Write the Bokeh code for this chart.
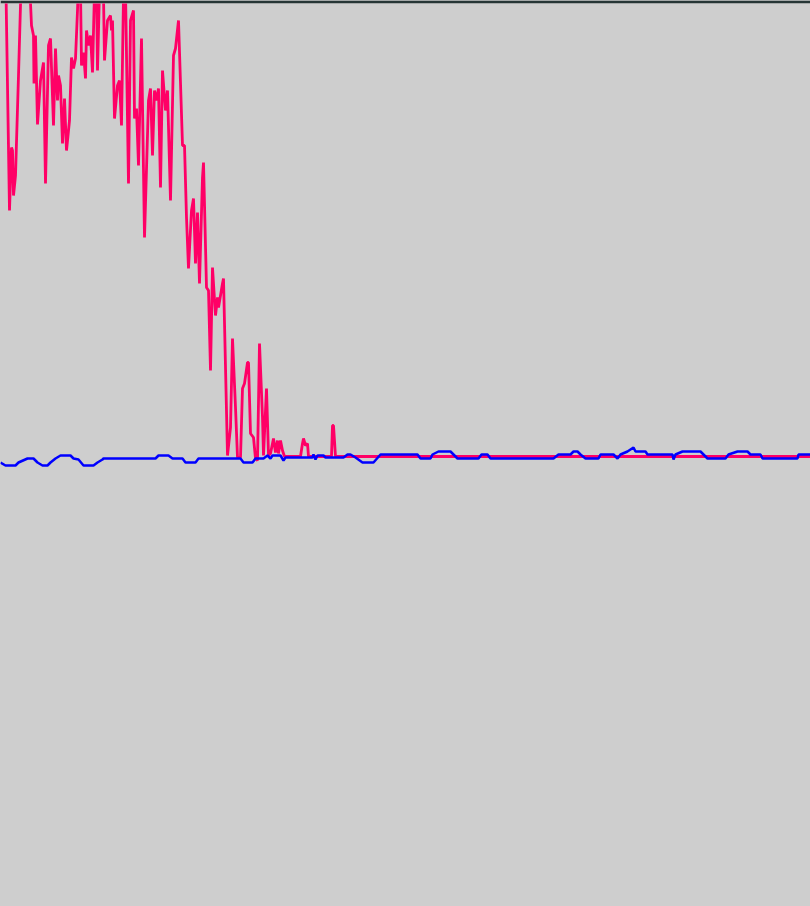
from bokeh.plotting import figure
from bokeh.models import Range1d, GlobalInlineStyleSheet
from bokeh.embed import file_html
from bokeh.resources import INLINE

# Red series: sample position and value (baseline = 0)
red_x = [5, 9, 11, 12, 13, 15, 18, 21, 25, 29, 31, 33, 33.5, 35, 37, 40, 43, 45, 48, 50,
         53, 55, 57, 58, 60, 62, 64, 66, 69, 71, 73, 75, 77, 78, 80, 81, 83, 85, 86, 88,
         90, 92, 94, 96, 97, 99, 101, 103, 104, 107, 110, 111, 112, 114, 117, 119, 121, 123, 125, 128,
         130, 133, 134, 136, 138, 141, 144, 148, 150, 152, 154, 156, 158, 160, 162, 165, 167, 170, 173, 175,
         178, 182, 184, 186, 188, 191, 193, 195, 197, 199, 202, 203, 206, 208, 210, 212, 215, 217, 218, 222,
         223, 227, 230, 232, 235, 237, 240, 242, 244, 247, 248, 250, 253, 255, 257, 259, 262, 263, 266, 268,
         270, 273, 275, 277, 278, 280, 282, 284, 300, 302, 303, 305, 307, 308, 331, 332, 333, 335, 810]
red_y = [496, 246, 309, 306, 261, 281, 381, 486, 536, 476, 431, 421, 373, 421, 332, 376, 394, 273, 411, 418,
         331, 408, 356, 381, 371, 313, 358, 306, 336, 399, 388, 398, 446, 476, 466, 391, 404, 378, 426, 411,
         421, 384, 466, 471, 386, 466, 486, 461, 396, 436, 441, 426, 436, 338, 371, 376, 331, 461, 466, 273,
         436, 446, 338, 348, 291, 418, 219, 356, 368, 301, 366, 356, 368, 269, 386, 346, 366, 256, 401, 408,
         436, 311, 311, 239, 188, 246, 258, 193, 244, 173, 279, 294, 169, 166, 86, 189, 141, 159, 149, 173,
         178, 1, 29, 118, 49, -1, -1, 68, 73, 94, 94, 23, 19, -2, -4, 113, 39, 1, 68, 1,
         3, 18, 4, 16, 3, 16, 6, 0, 0, 13, 18, 11, 13, 0, 0, 31, 31, 0, 0]

# Blue series: sample position and value (baseline = 0)
blue_x = [0, 5, 15, 18, 27, 33, 37, 42, 47, 50, 55, 60, 70, 73, 78, 83, 93, 97, 102, 103,
          155, 158, 168, 172, 182, 185, 195, 198, 240, 243, 252, 255, 263, 267, 270, 272, 280, 283, 285, 312,
          313, 315, 317, 323, 325, 343, 347, 350, 355, 362, 373, 380, 417, 420, 430, 432, 438, 450, 457, 478,
          481, 487, 490, 553, 558, 570, 573, 577, 580, 585, 598, 600, 613, 617, 620, 627, 633, 635, 645, 647,
          672, 673, 675, 682, 700, 707, 725, 728, 737, 747, 750, 760, 762, 797, 798, 810]
blue_y = [-6, -9, -9, -6, -2, -2, -6, -9, -9, -6, -2, 1, 1, -2, -3, -9, -9, -6, -3, -2,
          -2, 1, 1, -2, -2, -6, -6, -2, -2, -6, -6, -2, -2, 1, -2, 1, 1, -4, -1, -1,
          2, -3, 1, 1, -1, -1, 2, 2, -1, -6, -6, 2, 2, -2, -2, 2, 5, 5, -2, -2,
          2, 2, -2, -2, 2, 2, 5, 5, 2, -2, -2, 2, 2, -2, 2, 5, 9, 5, 5, 2,
          2, -3, 2, 5, 5, -2, -2, 2, 5, 5, 2, 2, -2, -2, 2, 2]

p = figure(width=810, height=906, output_backend="svg", toolbar_location=None,
           x_range=Range1d(0, 810), y_range=Range1d(-450, 453),
           min_border_left=0, min_border_right=0, min_border_bottom=0, min_border_top=3)
p.xaxis.visible = False
p.yaxis.visible = False
p.grid.visible = False
p.outline_line_color = None
p.background_fill_color = "#cecece"
p.border_fill_color = "#263535"

p.line(red_x, red_y, line_color="#ff0066", line_width=2.8)
p.line(blue_x, blue_y, line_color="#0000ff", line_width=2.5)

p.stylesheets = [GlobalInlineStyleSheet(css="html, body { margin: 0; padding: 0; background: #cecece; overflow: hidden; }")]

open("out.html", "w").write(file_html(p, INLINE))
